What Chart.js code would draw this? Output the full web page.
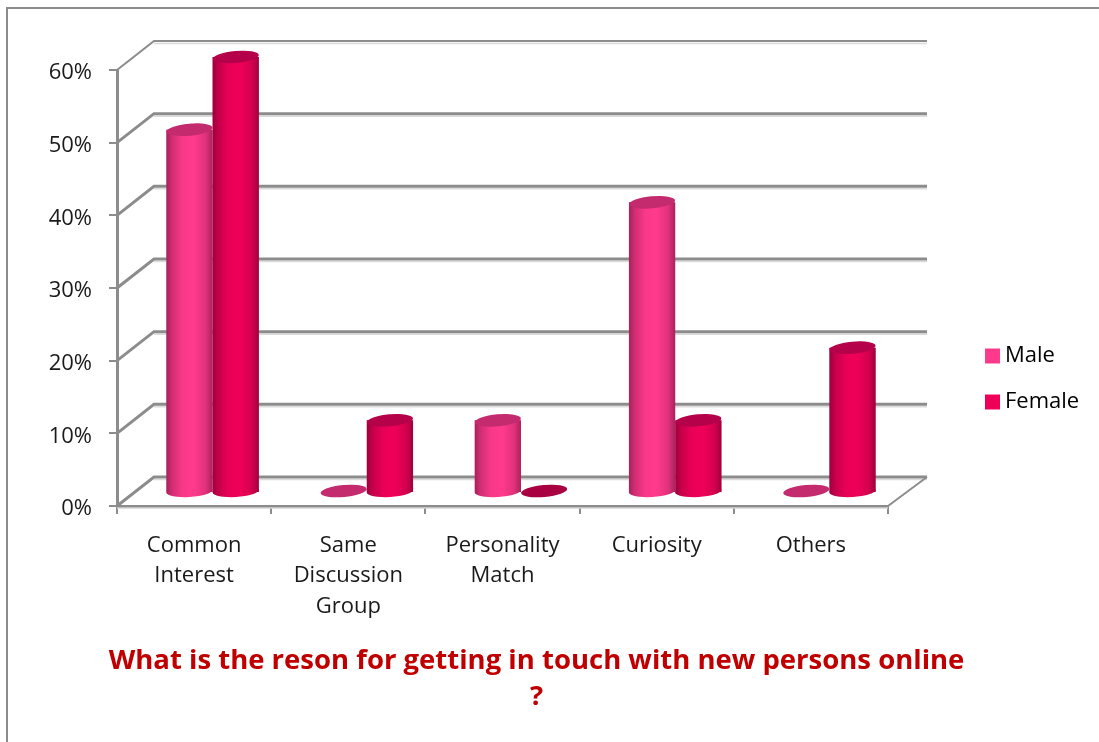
<!DOCTYPE html>
<html><head><meta charset="utf-8">
<style>html,body{margin:0;padding:0;background:#fff;overflow:hidden}#w{width:1099px;height:742px;position:relative}</style>
<script src="https://cdn.jsdelivr.net/npm/chart.js@4/dist/chart.umd.min.js"></script>
</head><body><div id="w"><canvas id="c" width="1099" height="742"></canvas></div>
<script>
const categories=[['Common','Interest'],['Same','Discussion','Group'],['Personality','Match'],['Curiosity'],['Others']];
const male=[50,0,10,40,0];
const female=[60,10,0,10,20];
const seriesNames=['Male','Female'];
const titleLines=['What is the reson for getting in touch with new persons online','?'];
const GRAY='#8c8c8c',DX=37,DY=29,BX=18.5,BY=-13;
Chart.defaults.font.family='"Open Sans"';
Chart.defaults.font.size=22;
Chart.defaults.color='#1a1a1a';
const topColors=['#c42a6e','#b5004a'];
const flatColors=['#c42a6e','#a80040'];
function ell(ctx,x,y,rx,ry,rot){ctx.beginPath();ctx.ellipse(x,y,rx,ry,rot,0,Math.PI*2);ctx.closePath();}
const deco={
 id:'deco',
 afterLayout(chart){
  const lg=chart.legend;lg.left=967;lg.top=321;lg.right=1099;lg.bottom=443;
  const t=chart.titleBlock;t.left=0;t.right=1073;
 },
 beforeDraw(chart){
  const c=chart.ctx;c.save();c.strokeStyle=GRAY;c.lineWidth=2;
  c.beginPath();c.moveTo(7,742);c.lineTo(7,8);c.lineTo(1099,8);c.stroke();c.restore();
 },
 beforeDatasetsDraw(chart){
  const c=chart.ctx,y=chart.scales.y,a=chart.chartArea;
  c.save();
  y.ticks.forEach(t=>{
   const py=y.getPixelForValue(t.value);
   c.strokeStyle='rgba(0,0,0,0.14)';c.lineWidth=1.5;
   c.beginPath();c.moveTo(a.left+DX,py-DY+2.5);c.lineTo(a.right+DX+2,py-DY+2.5);c.stroke();
   c.strokeStyle=GRAY;c.lineWidth=t.value===60?2:3;
   c.beginPath();c.moveTo(a.left,py);c.lineTo(a.left+DX,py-DY);c.lineTo(a.right+DX+2,py-DY);c.stroke();
  });
  const p0=y.getPixelForValue(0);
  c.strokeStyle=GRAY;c.lineWidth=2;
  c.beginPath();c.moveTo(a.right,p0);c.lineTo(a.right+DX+2,p0-DY);c.stroke();
  c.strokeStyle='#d4d4d4';c.lineWidth=1.5;
  c.beginPath();c.moveTo(a.left,p0+2);c.lineTo(a.right,p0+2);c.stroke();
  c.restore();
  c.save();c.translate(BX,BY);
 },
 afterDatasetDraw(chart,args){
  const c=chart.ctx,i=args.index,meta=chart.getDatasetMeta(i);
  meta.data.forEach(b=>{
   const w=b.width,rx=w/2,ry=6,x=b.x,top=b.y,base=b.base;
   if(Math.abs(base-top)<1){c.fillStyle=flatColors[i];ell(c,x,base-2,rx,ry,-0.09);c.fill();return;}
   c.fillStyle=chart.data.datasets[i].backgroundColor;
   ell(c,x,base-1,rx,ry,-0.06);c.fill();
   const g=c.createLinearGradient(x-rx,0,x+rx,0);
   g.addColorStop(0,'rgba(40,0,20,0.42)');g.addColorStop(.12,'rgba(40,0,20,0.22)');
   g.addColorStop(.35,'rgba(40,0,20,0.03)');g.addColorStop(.6,'rgba(40,0,20,0)');
   g.addColorStop(.85,'rgba(40,0,20,0.14)');g.addColorStop(1,'rgba(40,0,20,0.4)');
   c.save();c.beginPath();c.rect(x-rx,top,w,base-top);c.ellipse(x,base-1,rx,ry,-0.06,0,Math.PI*2);
   c.fillStyle=g;c.fill();c.restore();
   c.fillStyle=topColors[i];ell(c,x,top,rx,ry,-0.09);c.fill();
  });
 },
 afterDatasetsDraw(chart){chart.ctx.restore();}
};
new Chart(document.getElementById('c'),{
 type:'bar',
 data:{labels:categories,datasets:[
  {label:seriesNames[0],data:male,backgroundColor:'#ff3a8c',borderWidth:0,clip:false,categoryPercentage:.6,barPercentage:1},
  {label:seriesNames[1],data:female,backgroundColor:'#ef0058',borderWidth:0,clip:false,categoryPercentage:.6,barPercentage:1}
 ]},
 options:{
  responsive:false,animation:false,
  layout:{padding:{left:0,top:70,right:211,bottom:27}},
  scales:{
   x:{afterFit(s){s.height=137;},
      grid:{drawOnChartArea:false,drawTicks:true,tickLength:8,color:GRAY,lineWidth:2},
      border:{display:true,color:GRAY,width:3},
      ticks:{maxRotation:0,minRotation:0,autoSkip:false,padding:16,font:{size:22,lineHeight:1.39},color:'#1a1a1a'}},
   y:{min:0,max:60,afterFit(s){s.width=117;},
      grid:{drawOnChartArea:false,drawTicks:true,tickLength:8,color:GRAY,lineWidth:2},
      border:{display:true,color:GRAY,width:3},
      ticks:{stepSize:10,padding:17,callback:v=>['',v+'%'],font:{size:22,lineHeight:'6px'},color:'#1a1a1a'}}
  },
  plugins:{
   tooltip:{enabled:false},
   title:{display:true,position:'bottom',text:titleLines,color:'#c00000',padding:0,font:{size:27.5,weight:'bold',lineHeight:1.309}},
   legend:{display:true,position:'chartArea',align:'start',
    labels:{boxWidth:3,boxHeight:3,padding:24,font:{size:22},color:'#1a1a1a',
     generateLabels(chart){return chart.data.datasets.map((d,i)=>({text:d.label,fillStyle:d.backgroundColor,strokeStyle:d.backgroundColor,lineWidth:12,datasetIndex:i,hidden:false}));}}}
  }
 },
 plugins:[deco]
});
</script></body></html>
